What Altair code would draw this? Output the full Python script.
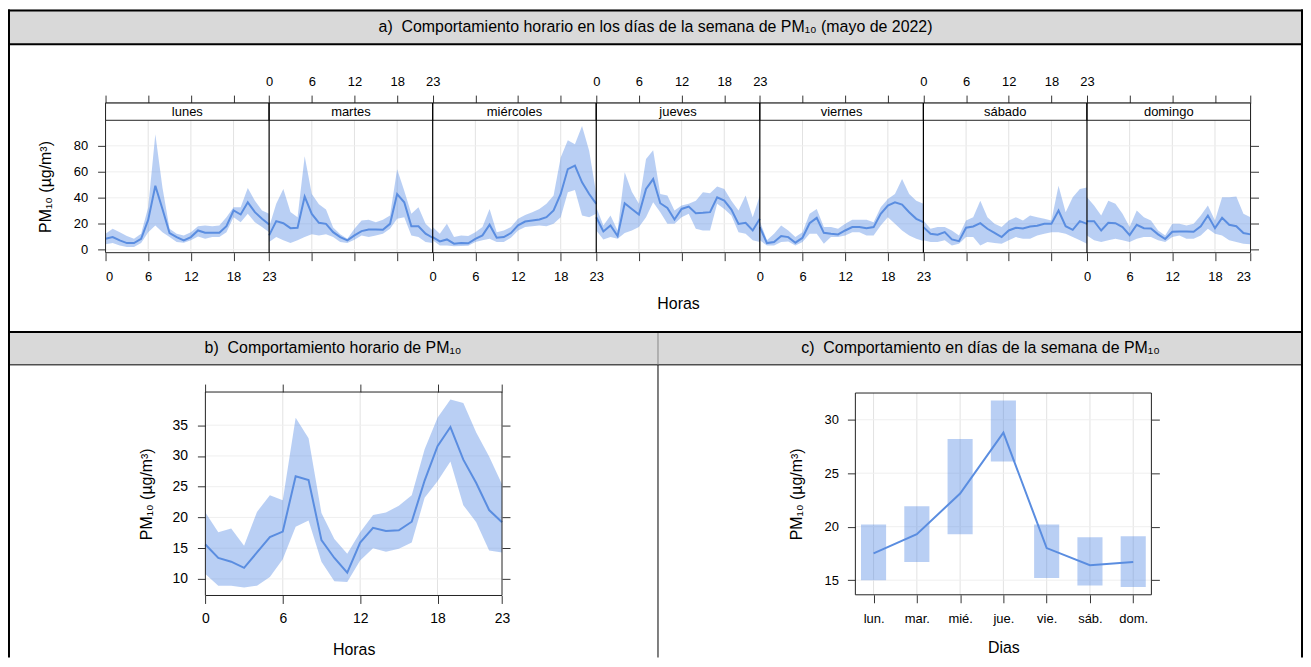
import altair as alt
import pandas as pd

FONT = "Liberation Sans"
LINE_C = "#5a8de0"
BAND_C = "#4f86e3"
BAND_OP = 0.4
GRID_X = "#e2e2e2"
GRID_Y = "#efefef"
TICK_C = "#333333"
BOX_C = "#222222"
HEAD_FILL = "#d9d9d9"

DAYS = ["lunes", "martes", "miércoles", "jueves", "viernes", "sábado", "domingo"]
DAY_ABBR = ["lun.", "mar.", "mié.", "jue.", "vie.", "sáb.", "dom."]
HOURS = list(range(24))

TITLE_A = "a)\u00a0 Comportamiento horario en los días de la semana de PM\u2081\u2080 (mayo de 2022)"
TITLE_B = "b)\u00a0 Comportamiento horario de PM\u2081\u2080"
TITLE_C = "c)\u00a0 Comportamiento en días de la semana de PM\u2081\u2080"
PM_TITLE = "PM\u2081\u2080 (µg/m³)"

# ---- panel a) hourly values per weekday: mean, lower, upper (µg/m³) ----
LUN_MEAN = [8.4, 9.7, 7.2, 5.1, 5.1, 8.4, 23.0, 49.3, 31.4, 12.8, 9.7, 7.2, 9.7, 14.8, 13.0, 13.0, 13.0, 18.1, 30.2, 27.1, 36.5, 28.9, 23.8, 19.4]
LUN_LO = [4.1, 5.1, 3.3, 2.0, 2.0, 5.1, 13.5, 18.7, 13.5, 9.7, 5.9, 5.4, 7.2, 10.2, 8.4, 9.7, 9.7, 13.5, 25.0, 21.2, 27.6, 21.2, 17.4, 13.5]
LUN_HI = [12.3, 16.1, 13.5, 10.5, 8.4, 12.3, 32.7, 89.0, 48.0, 16.1, 12.3, 11.0, 13.5, 18.1, 18.7, 18.1, 18.7, 25.0, 32.7, 32.7, 47.5, 37.8, 30.2, 27.6]

MAR_MEAN = [11.0, 22.0, 20.4, 16.6, 16.9, 40.9, 27.6, 20.7, 19.9, 13.5, 9.7, 7.2, 11.0, 14.3, 15.6, 15.6, 15.3, 19.9, 42.9, 36.5, 18.1, 18.1, 12.3, 9.2]
MAR_LO = [5.9, 9.7, 7.2, 5.1, 7.2, 9.7, 11.8, 11.0, 11.8, 9.7, 5.9, 5.1, 7.7, 11.0, 9.7, 11.0, 12.3, 16.1, 23.8, 25.0, 11.0, 9.7, 5.9, 5.1]
MAR_HI = [17.4, 35.3, 46.8, 29.0, 25.0, 72.0, 43.0, 35.0, 31.0, 17.0, 11.8, 8.4, 16.1, 22.5, 23.0, 21.2, 23.0, 26.3, 62.0, 45.5, 27.6, 32.7, 19.9, 14.8]

MIE_MEAN = [9.7, 6.4, 7.9, 4.6, 5.1, 4.9, 8.4, 11.0, 19.2, 9.2, 9.7, 12.8, 18.7, 21.7, 22.5, 23.3, 25.0, 30.2, 42.9, 62.1, 64.7, 51.9, 42.9, 35.3]
MIE_LO = [7.2, 3.3, 3.3, 2.6, 2.8, 3.1, 5.9, 7.2, 8.4, 5.9, 5.9, 9.2, 14.8, 17.4, 18.1, 18.7, 18.1, 19.9, 25.0, 44.2, 46.0, 26.3, 25.0, 27.6]
MIE_HI = [17.4, 12.3, 19.9, 9.7, 11.0, 10.5, 13.5, 17.4, 31.4, 13.5, 14.8, 17.4, 23.8, 26.8, 28.9, 31.4, 35.3, 41.7, 71.0, 84.3, 81.3, 95.3, 76.2, 42.9]

JUE_MEAN = [25.0, 14.0, 18.7, 10.5, 35.8, 31.4, 27.1, 46.8, 54.4, 35.8, 32.2, 23.3, 31.4, 33.2, 28.1, 28.4, 28.9, 40.4, 37.8, 30.9, 19.9, 20.7, 14.8, 23.8]
JUE_LO = [14.8, 7.9, 9.7, 8.4, 12.8, 14.8, 17.4, 25.0, 36.5, 28.9, 19.9, 19.9, 25.0, 27.6, 16.1, 14.8, 14.8, 35.3, 31.4, 26.3, 13.5, 12.3, 7.2, 5.9]
JUE_HI = [32.7, 18.7, 26.3, 14.8, 59.6, 44.7, 35.3, 69.8, 76.7, 42.9, 41.7, 30.2, 34.0, 35.3, 37.8, 44.2, 43.5, 48.6, 46.8, 37.8, 30.2, 41.7, 25.0, 41.7]

VIE_MEAN = [17.4, 5.1, 5.9, 10.5, 9.7, 5.4, 9.2, 20.4, 24.5, 13.0, 12.3, 11.8, 14.8, 17.4, 17.4, 16.6, 17.4, 27.6, 34.0, 36.5, 34.8, 28.9, 23.8, 21.2]
VIE_LO = [7.2, 3.3, 3.3, 5.9, 6.4, 3.3, 5.9, 12.3, 12.3, 4.6, 9.7, 9.7, 11.0, 13.5, 13.5, 11.0, 11.0, 18.7, 25.0, 19.9, 14.8, 11.0, 8.4, 6.6]
VIE_HI = [22.0, 7.2, 12.3, 18.7, 14.8, 9.7, 13.5, 27.6, 31.4, 17.4, 17.4, 16.1, 19.9, 23.0, 23.0, 23.0, 21.2, 32.7, 39.1, 42.9, 54.4, 42.9, 37.8, 35.3]

SAB_MEAN = [17.4, 12.3, 11.5, 13.5, 7.9, 6.6, 16.9, 17.9, 20.4, 16.1, 13.0, 9.7, 14.8, 16.9, 16.4, 17.9, 18.4, 19.9, 19.9, 30.2, 18.1, 15.3, 22.0, 19.9]
SAB_LO = [7.2, 5.9, 5.9, 7.2, 3.3, 4.6, 9.7, 9.7, 3.3, 5.9, 5.1, 4.6, 7.2, 9.7, 8.4, 8.4, 11.0, 12.3, 13.5, 13.5, 12.3, 9.7, 7.2, 4.6]
SAB_HI = [22.5, 16.1, 17.4, 17.4, 14.8, 11.0, 22.5, 25.0, 37.8, 25.0, 19.9, 17.4, 22.5, 25.0, 22.5, 26.3, 25.0, 23.8, 22.5, 49.3, 28.9, 40.4, 46.8, 48.0]

DOM_MEAN = [22.0, 22.0, 14.8, 20.7, 20.4, 17.4, 11.2, 19.2, 16.6, 16.4, 11.8, 8.2, 13.8, 14.1, 14.1, 13.8, 18.1, 26.3, 16.6, 24.5, 19.2, 18.1, 12.8, 11.8]
DOM_LO = [11.0, 7.2, 5.9, 7.2, 8.4, 7.2, 5.9, 8.4, 9.7, 9.7, 7.2, 5.9, 9.7, 11.0, 8.4, 8.4, 11.0, 16.1, 12.3, 11.0, 7.2, 5.9, 4.6, 4.1]
DOM_HI = [40.4, 34.0, 26.3, 37.8, 35.3, 27.6, 17.4, 30.2, 25.0, 22.5, 14.8, 11.0, 19.9, 19.9, 18.7, 19.9, 26.3, 34.0, 22.5, 40.4, 40.4, 40.9, 27.6, 25.0]

# ---- panel b) overall hourly profile ----
B_MEAN = [15.6, 13.4, 12.8, 11.8, 14.3, 16.8, 17.7, 26.7, 26.1, 16.3, 13.4, 11.0, 15.9, 18.3, 17.8, 17.9, 19.3, 26.0, 31.6, 34.7, 29.4, 25.6, 21.2, 19.2]
B_LO = [10.8, 8.9, 8.9, 8.6, 8.9, 10.3, 13.2, 18.5, 19.5, 12.8, 9.6, 9.5, 13.0, 15.0, 14.4, 14.9, 15.9, 23.2, 25.9, 29.1, 22.0, 19.2, 14.6, 14.3]
B_HI = [20.8, 17.6, 18.2, 15.4, 20.9, 23.6, 22.8, 36.2, 32.9, 20.7, 16.5, 14.1, 17.6, 20.4, 20.8, 21.9, 23.6, 31.1, 36.2, 39.2, 38.6, 33.8, 29.9, 25.4]

# ---- panel c) weekday profile ----
C_MEAN = [17.5, 19.3, 23.1, 28.8, 18.0, 16.4, 16.7]
C_LO = [15.0, 16.7, 19.3, 26.1, 15.2, 14.5, 14.35]
C_HI = [20.2, 21.9, 28.2, 31.8, 20.2, 19.0, 19.1]

A_MEANS = [LUN_MEAN, MAR_MEAN, MIE_MEAN, JUE_MEAN, VIE_MEAN, SAB_MEAN, DOM_MEAN]
A_LOS = [LUN_LO, MAR_LO, MIE_LO, JUE_LO, VIE_LO, SAB_LO, DOM_LO]
A_HIS = [LUN_HI, MAR_HI, MIE_HI, JUE_HI, VIE_HI, SAB_HI, DOM_HI]

SPAN = 23  # each weekday panel spans hours 0..23
rows = []
for d, day in enumerate(DAYS):
    for h in HOURS:
        rows.append({"day": day, "pos": d * SPAN + h, "mean": A_MEANS[d][h],
                     "lo": A_LOS[d][h], "hi": A_HIS[d][h]})
df_a = pd.DataFrame(rows)
df_strip = pd.DataFrame({"day": DAYS,
                         "start": [d * SPAN for d in range(7)],
                         "end": [d * SPAN + SPAN for d in range(7)],
                         "mid": [d * SPAN + SPAN / 2 for d in range(7)]})
TICKS_A = sorted(set(d * SPAN + h for d in range(7) for h in (0, 6, 12, 18)) | {7 * SPAN})
A_YT = [0, 20, 40, 60, 80]
B_XT = [0, 6, 12, 18, 23]
B_YT = [10, 15, 20, 25, 30, 35]
C_YT = [15, 20, 25, 30]
df_b = pd.DataFrame({"hour": HOURS, "mean": B_MEAN, "lo": B_LO, "hi": B_HI})
df_c = pd.DataFrame({"i": list(range(1, 8)), "abbr": DAY_ABBR, "mean": C_MEAN, "lo": C_LO, "hi": C_HI})

# ---------------- page geometry (pixels of the single view) ----------------
W, H = 1301, 651
AX0, AX1, AY_TOP, AY_STRIP, AY_BOT = 98, 1248.3, 94, 111.3, 244.3
BX0, BX1, BY0, BY1 = 198.3, 496.3, 384.3, 588.7
CX0, CX1, CY0, CY1 = 851.3, 1148.7, 385.3, 588.0
DIV_X, ROW2_TOP, ROW2_HEAD = 653, 323, 357

one = alt.Data(values=[{"k": 0}])


def hrule(x1, x2, y, w, color="black"):
    return alt.Chart(one).mark_rule(color=color, strokeWidth=w).encode(
        x=alt.value(x1), x2=alt.value(x2), y=alt.value(y))


def vrule(x, y1, y2, w, color="black"):
    return alt.Chart(one).mark_rule(color=color, strokeWidth=w).encode(
        x=alt.value(x), y=alt.value(y1), y2=alt.value(y2))


def box(x1, x2, y1, y2, fill, **kw):
    return alt.Chart(one).mark_rect(fill=fill, **kw).encode(
        x=alt.value(x1), x2=alt.value(x2), y=alt.value(y1), y2=alt.value(y2))


def outline(x1, x2, y1, y2):
    return box(x1, x2, y1, y2, "white", fillOpacity=0, stroke=BOX_C, strokeWidth=1)


def label(text, x, y, size=16):
    return alt.Chart(alt.Data(values=[{"t": text}])).mark_text(
        fontSize=size, font=FONT, color="black").encode(
        text="t:N", x=alt.value(x), y=alt.value(y))


def sc(domain, rng):
    return alt.Scale(domain=domain, range=rng, nice=False, zero=False)


# ---------------- frame of the table ----------------
frame = [
    box(0, W, 0, 35, HEAD_FILL),
    box(0, W, ROW2_TOP, ROW2_HEAD, HEAD_FILL),
    hrule(0, W, 1, 2), hrule(0, W, 35, 2),
    hrule(0, W, ROW2_TOP + 1, 2), hrule(0, W, ROW2_HEAD, 1),
    vrule(1, 0, H, 2), vrule(W - 1, 0, H, 2),
    vrule(DIV_X, ROW2_TOP + 2, ROW2_HEAD, 1, "#888888"), vrule(DIV_X, ROW2_HEAD, H, 1),
    label(TITLE_A, W / 2, 18),
    label(TITLE_B, DIV_X / 2, 340),
    label(TITLE_C, (DIV_X + W) / 2, 340),
]

# ---------------- panel a ----------------
A_BOT_EXPR = ("(datum.value % 23 == 0 && datum.value > 0 && floor(datum.value/23) % 2 == 1) ? '23' : "
              "((floor(datum.value/23) % 2 == 0 && datum.value < 161) ? '' + (datum.value % 23) : '')")
A_TOP_EXPR = ("(datum.value % 23 == 0 && datum.value > 0 && floor(datum.value/23) % 2 == 0) ? '23' : "
              "((floor(datum.value/23) % 2 == 1 && datum.value < 161) ? '' + (datum.value % 23) : '')")
a_xs = sc([0, 7 * SPAN], [AX0, AX1])
a_ys = sc([-2.3, 99.7], [AY_BOT, AY_STRIP])

grid_a_v = alt.Chart(pd.DataFrame({"p": [t for t in TICKS_A if t % SPAN]})).mark_rule(
    color=GRID_X).encode(x=alt.X("p:Q", scale=a_xs, axis=None),
                         y=alt.value(AY_STRIP), y2=alt.value(AY_BOT))
grid_a_h = alt.Chart(pd.DataFrame({"v": A_YT})).mark_rule(color=GRID_Y).encode(
    y=alt.Y("v:Q", scale=a_ys, axis=None), x=alt.value(AX0), x2=alt.value(AX1))
band_a = alt.Chart(df_a).mark_area(color=BAND_C, opacity=BAND_OP).encode(
    x=alt.X("pos:Q", scale=a_xs, axis=alt.Axis(
        orient="top", offset=-AY_TOP, values=TICKS_A, labelExpr=A_TOP_EXPR, grid=False,
        title=None, labelPadding=7, labelOverlap=False, labelFontSize=13)),
    y=alt.Y("lo:Q", scale=a_ys, axis=alt.Axis(
        orient="right", offset=-(W - AX1), values=A_YT, labels=False, grid=False, title=None)),
    y2="hi:Q", detail="day:N")
line_a = alt.Chart(df_a).mark_line(color=LINE_C, strokeWidth=2).encode(
    x=alt.X("pos:Q", scale=a_xs, axis=alt.Axis(
        orient="bottom", offset=-(H - AY_BOT), values=TICKS_A, labelExpr=A_BOT_EXPR, grid=False,
        title="Horas", titlePadding=12, labelPadding=10, labelOverlap=False, labelFontSize=13)),
    y=alt.Y("mean:Q", scale=a_ys, axis=alt.Axis(
        orient="left", offset=-AX0, values=A_YT, grid=False, title=PM_TITLE, titlePadding=20,
        labelPadding=10, labelFontSize=13)),
    detail="day:N")
strip_rect = alt.Chart(df_strip).mark_rect(fill="white", stroke=BOX_C, strokeWidth=1).encode(
    x=alt.X("start:Q", scale=a_xs, axis=None), x2="end:Q",
    y=alt.value(AY_TOP), y2=alt.value(AY_STRIP))
strip_text = alt.Chart(df_strip).mark_text(fontSize=13, font=FONT, color="black").encode(
    x=alt.X("mid:Q", scale=a_xs, axis=None), y=alt.value((AY_TOP + AY_STRIP) / 2 + 0.5), text="day:N")
bound_rules = alt.Chart(df_strip).transform_filter("datum.start > 0").mark_rule(
    color="black", strokeWidth=1.2).encode(
    x=alt.X("start:Q", scale=a_xs, axis=None), y=alt.value(AY_TOP), y2=alt.value(AY_BOT))
panel_a = [grid_a_v, grid_a_h, band_a, line_a, outline(AX0, AX1, AY_TOP, AY_BOT),
           strip_rect, strip_text, bound_rules]

# ---------------- panel b ----------------
b_xs = sc([0, 23], [BX0, BX1])
b_ys = sc([7.3, 40.4], [BY1, BY0])
grid_b_v = alt.Chart(pd.DataFrame({"p": B_XT[1:-1]})).mark_rule(color=GRID_X).encode(
    x=alt.X("p:Q", scale=b_xs, axis=None), y=alt.value(BY0), y2=alt.value(BY1))
grid_b_h = alt.Chart(pd.DataFrame({"v": B_YT})).mark_rule(color=GRID_Y).encode(
    y=alt.Y("v:Q", scale=b_ys, axis=None), x=alt.value(BX0), x2=alt.value(BX1))
band_b = alt.Chart(df_b).mark_area(color=BAND_C, opacity=BAND_OP).encode(
    x=alt.X("hour:Q", scale=b_xs, axis=alt.Axis(
        orient="top", offset=-BY0, values=B_XT, labels=False, grid=False, title=None)),
    y=alt.Y("lo:Q", scale=b_ys, axis=alt.Axis(
        orient="right", offset=-(W - BX1), values=B_YT, labels=False, grid=False, title=None)),
    y2="hi:Q")
line_b = alt.Chart(df_b).mark_line(color=LINE_C, strokeWidth=2).encode(
    x=alt.X("hour:Q", scale=b_xs, axis=alt.Axis(
        orient="bottom", offset=-(H - BY1), values=B_XT, grid=False, title="Horas",
        titlePadding=16, labelPadding=8, labelFontSize=14, labelFlush=False)),
    y=alt.Y("mean:Q", scale=b_ys, axis=alt.Axis(
        orient="left", offset=-BX0, values=B_YT, grid=False, title=PM_TITLE, titlePadding=18,
        labelPadding=10, labelFontSize=14)))
panel_b = [grid_b_v, grid_b_h, band_b, line_b, outline(BX0, BX1, BY0, BY1)]

# ---------------- panel c ----------------
c_xs = sc([0.58, 7.42], [CX0, CX1])
c_ys = sc([13.63, 32.5], [CY1, CY0])
C_EXPR = "[" + ",".join("'%s'" % a for a in DAY_ABBR) + "][datum.value - 1]"
grid_c_v = alt.Chart(df_c).mark_rule(color=GRID_X).encode(
    x=alt.X("i:Q", scale=c_xs, axis=None), y=alt.value(CY0), y2=alt.value(CY1))
grid_c_h = alt.Chart(pd.DataFrame({"v": C_YT})).mark_rule(color=GRID_Y).encode(
    y=alt.Y("v:Q", scale=c_ys, axis=None), x=alt.value(CX0), x2=alt.value(CX1))
boxes_c = alt.Chart(df_c).transform_calculate(
    x1="datum.i - 0.29", x2="datum.i + 0.29").mark_rect(color=BAND_C, opacity=BAND_OP).encode(
    x=alt.X("x1:Q", scale=c_xs, axis=None), x2="x2:Q",
    y=alt.Y("lo:Q", scale=c_ys, axis=alt.Axis(
        orient="right", offset=-(W - CX1), values=C_YT, labels=False, grid=False, title=None)),
    y2="hi:Q")
line_c = alt.Chart(df_c).mark_line(color=LINE_C, strokeWidth=2).encode(
    x=alt.X("i:Q", scale=c_xs, axis=alt.Axis(
        orient="bottom", offset=-(H - CY1), values=list(range(1, 8)), labelExpr=C_EXPR,
        grid=False, title="Dias", titlePadding=14, labelPadding=10, labelFontSize=13)),
    y=alt.Y("mean:Q", scale=c_ys, axis=alt.Axis(
        orient="left", offset=-CX0, values=C_YT, grid=False, title=PM_TITLE, titlePadding=20,
        labelPadding=9, labelFontSize=13)))
panel_c = [grid_c_v, grid_c_h, boxes_c, line_c, outline(CX0, CX1, CY0, CY1)]

chart = alt.layer(*frame, *panel_a, *panel_b, *panel_c).resolve_scale(
    x="independent", y="independent").resolve_axis(
    x="independent", y="independent").properties(
    width=W, height=H, padding=0, autosize=alt.AutoSizeParams(type="none")
).configure_view(
    stroke="transparent"
).configure_axis(
    labelFont=FONT, titleFont=FONT, labelColor="black", titleColor="black",
    titleFontWeight="normal", titleFontSize=16, tickColor=TICK_C, tickSize=8,
    domain=False
)

chart.save("out.html", embed_options={"renderer": "svg", "actions": False})
